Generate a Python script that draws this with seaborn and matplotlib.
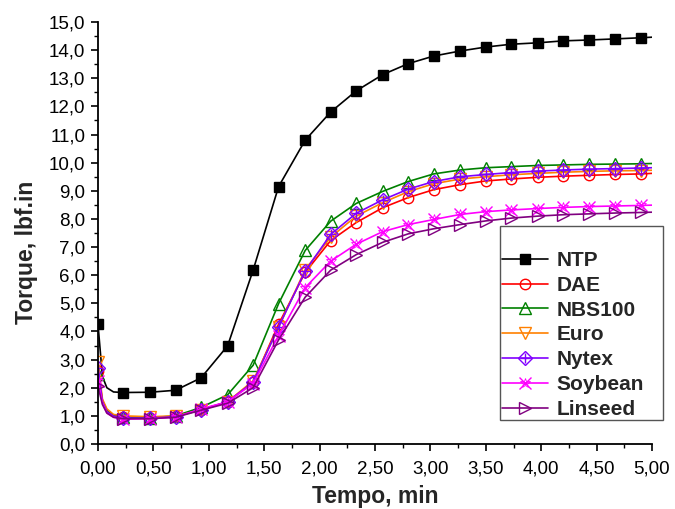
import matplotlib
matplotlib.use('Agg')
import matplotlib.pyplot as plt
import seaborn as sns
import pandas as pd
from matplotlib.lines import Line2D
from matplotlib.patches import Rectangle
from matplotlib.ticker import MultipleLocator, FuncFormatter
from matplotlib.legend_handler import HandlerTuple

# ---------------- data ----------------
t_marks = [0.00, 0.23, 0.47, 0.70, 0.93, 1.17, 1.40, 1.63, 1.87, 2.10, 2.33,
           2.57, 2.80, 3.03, 3.27, 3.50, 3.73, 3.97, 4.20, 4.43, 4.67, 4.90]
t_early = [0.04, 0.08, 0.14]
t_end = 5.00

ntp = [4.25, 1.83, 1.84, 1.91, 2.35, 3.49, 6.18, 9.15, 10.80, 11.80, 12.55,
       13.13, 13.52, 13.79, 13.97, 14.11, 14.21, 14.26, 14.33, 14.36, 14.40, 14.44]
ntp_early = [2.40, 2.00, 1.85]
ntp_end = 14.46

dae = [2.60, 0.95, 0.93, 0.98, 1.22, 1.50, 2.20, 4.26, 6.10, 7.23, 7.87,
       8.40, 8.76, 9.04, 9.22, 9.35, 9.42, 9.48, 9.52, 9.55, 9.58, 9.60]
dae_early = [1.55, 1.20, 1.02]
dae_end = 9.62

nbs100 = [2.50, 0.95, 0.93, 1.00, 1.30, 1.75, 2.80, 4.99, 6.88, 7.92, 8.55,
          8.98, 9.33, 9.60, 9.74, 9.82, 9.86, 9.90, 9.92, 9.94, 9.95, 9.96]
nbs100_early = [1.50, 1.18, 1.02]
nbs100_end = 9.97

euro = [2.92, 1.00, 0.97, 1.00, 1.20, 1.50, 2.25, 4.15, 6.20, 7.35, 8.10,
        8.58, 8.97, 9.25, 9.42, 9.50, 9.57, 9.62, 9.66, 9.69, 9.71, 9.72]
euro_early = [1.60, 1.25, 1.05]
euro_end = 9.73

nytex = [2.70, 0.92, 0.92, 0.97, 1.22, 1.50, 2.20, 4.16, 6.15, 7.45, 8.20,
         8.68, 9.06, 9.33, 9.50, 9.58, 9.65, 9.70, 9.74, 9.77, 9.79, 9.81]
nytex_early = [1.50, 1.15, 0.99]
nytex_end = 9.82

soybean = [2.25, 0.88, 0.90, 0.95, 1.25, 1.50, 2.15, 3.85, 5.56, 6.50, 7.10,
           7.55, 7.80, 7.98, 8.16, 8.26, 8.32, 8.37, 8.41, 8.44, 8.46, 8.48]
soybean_early = [1.45, 1.10, 0.95]
soybean_end = 8.49

linseed = [2.05, 0.90, 0.90, 0.95, 1.20, 1.45, 2.00, 3.70, 5.22, 6.18, 6.73,
           7.17, 7.47, 7.65, 7.80, 7.93, 8.03, 8.10, 8.15, 8.18, 8.21, 8.23]
linseed_early = [1.40, 1.10, 0.95]
linseed_end = 8.24

labels = ["NTP", "DAE", "NBS100", "Euro", "Nytex", "Soybean", "Linseed"]
series = [(ntp, ntp_early, ntp_end), (dae, dae_early, dae_end),
          (nbs100, nbs100_early, nbs100_end), (euro, euro_early, euro_end),
          (nytex, nytex_early, nytex_end), (soybean, soybean_early, soybean_end),
          (linseed, linseed_early, linseed_end)]

# ---------------- styles ----------------
colors = ["#000000", "#FF0000", "#008000", "#FF8000", "#8000FF", "#FF00FF", "#800080"]
markers = ["s", "o", "^", "v", "D", "x", ">"]
msizes = [7.0, 7.5, 8.0, 8.0, 7.0, 8.5, 8.5]
filled = [True, False, False, False, False, False, False]

sns.set_theme(style="ticks")
plt.rcParams['font.family'] = ['Liberation Sans', 'DejaVu Sans']

W, H = 675, 509
fig = plt.figure(figsize=(W / 100, H / 100), dpi=100)
ax = fig.add_axes([98 / W, 1 - 444 / H, (652 - 98) / W, (444 - 22) / H])

t_line = [t_marks[0]] + t_early + t_marks[1:] + [t_end]
mark_idx = [0] + list(range(4, 4 + len(t_marks) - 1))

handles = []
for lab, (vals, early, end), c, m, ms, f in zip(labels, series, colors, markers, msizes, filled):
    v_line = [vals[0]] + early + vals[1:] + [end]
    df = pd.DataFrame({"t": t_line, "v": v_line})
    mfc = c if f else "none"
    sns.lineplot(data=df, x="t", y="v", color=c, lw=1.2, ax=ax, legend=False,
                 marker=m, markevery=mark_idx, ms=ms, mfc=mfc, mec=c, mew=1.0)
    h = Line2D([0], [0], color=c, lw=1.2, marker=m, ms=ms, mfc=mfc, mec=c, mew=1.0)
    if lab == "Nytex":
        sns.lineplot(data=df, x="t", y="v", color=c, lw=0, ax=ax, legend=False,
                     marker="+", markevery=mark_idx, ms=ms, mec=c, mew=1.0)
        h = (h, Line2D([0], [0], lw=0, marker="+", ms=ms, mec=c, mew=1.0))
    if lab == "Soybean":
        sns.lineplot(data=df, x="t", y="v", color=c, lw=0, ax=ax, legend=False,
                     marker="*", markevery=mark_idx, ms=ms - 1, mfc="none", mec=c, mew=0.6)
        h = (h, Line2D([0], [0], lw=0, marker="*", ms=ms - 1, mfc="none", mec=c, mew=0.6))
    handles.append(h)

# ---------------- axes ----------------
ax.set_xlim(0, 5)
ax.set_ylim(0, 15)
ax.xaxis.set_major_locator(MultipleLocator(0.5))
ax.xaxis.set_minor_locator(MultipleLocator(0.25))
ax.yaxis.set_major_locator(MultipleLocator(1.0))
ax.yaxis.set_minor_locator(MultipleLocator(0.5))
ax.xaxis.set_major_formatter(FuncFormatter(lambda v, p: f"{v:.2f}".replace(".", ",")))
ax.yaxis.set_major_formatter(FuncFormatter(lambda v, p: f"{v:.1f}".replace(".", ",")))
ax.tick_params(which="major", direction="out", length=5, width=1.2, labelsize=13.5,
               color="black", labelcolor="black")
ax.tick_params(axis="x", which="major", pad=7)
ax.tick_params(axis="y", which="major", pad=4)
ax.tick_params(which="minor", direction="out", length=3, width=1.0, color="black")
for s in ["top", "right"]:
    ax.spines[s].set_visible(False)
for s in ["left", "bottom"]:
    ax.spines[s].set_color("black")
    ax.spines[s].set_linewidth(1.3)
ax.set_facecolor("white")
ax.set_xlabel("Tempo, min", fontsize=16.5, fontweight="bold", labelpad=5)
ax.set_ylabel("Torque, lbf.in", fontsize=16.5, fontweight="bold")
ax.yaxis.set_label_coords(-0.108, 0.455)

# legend box (drawn separately to match the reference frame size)
fig.patches.append(Rectangle((500 / W, 1 - 420 / H), 163 / W, 194 / H,
                             transform=fig.transFigure, fill=False,
                             ec="#555555", lw=1.0, zorder=5))
leg = fig.legend(handles, labels, loc="upper left",
                 bbox_to_anchor=(502 / W, 1 - 251 / H),
                 frameon=False, prop={"weight": "bold", "size": 15},
                 handlelength=2.2, handletextpad=0.43,
                 labelspacing=0.28, borderpad=0, borderaxespad=0,
                 handler_map={tuple: HandlerTuple(ndivide=1)})

fig.savefig("out.png", dpi=100, facecolor="white")
